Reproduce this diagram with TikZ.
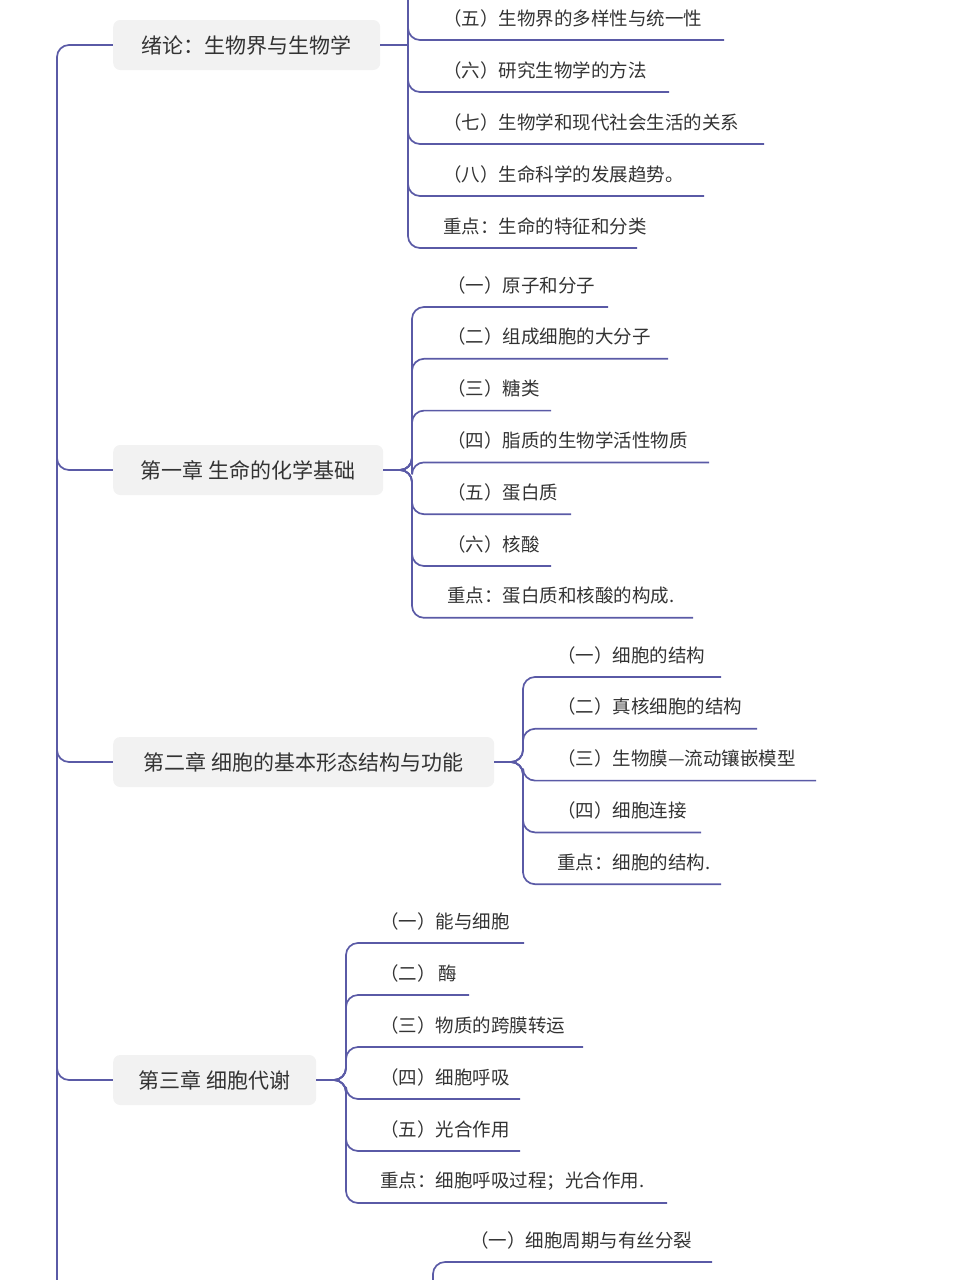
\documentclass[tikz,border=0pt]{standalone}
\usepackage{fontspec}
\setmainfont{Noto Sans CJK SC}
\usetikzlibrary{positioning,calc}
\definecolor{branch}{HTML}{5A5AA6}
\definecolor{txt}{HTML}{333333}
\definecolor{boxgray}{HTML}{F2F2F2}
\tikzset{
  chap/.style={fill=boxgray,rounded corners=7pt,text=txt,
    font=\fontsize{21}{25}\selectfont,inner sep=0pt,
    minimum height=50pt,anchor=west},
  item/.style={text=txt,font=\fontsize{18.5}{22}\selectfont,
    inner sep=0pt,anchor=west},
  link/.style={draw=branch,line width=1.7pt,rounded corners=12pt}
}
\begin{document}
\begin{tikzpicture}[x=1pt,y=-1pt]
\useasboundingbox (0,0) rectangle (961,1280);
% spine
\draw[link] (113,45) -- (57,45) -- (57,1300);
\foreach \cy in {470,762,1080}
  \draw[link] (57,\cy-40) -- (57,\cy) -- (113,\cy);
% chapter boxes
\node[chap,minimum width=267pt] (c0) at (113,45) {绪论：生物界与生物学};
\node[chap,minimum width=270pt] (c1) at (113,470) {第一章 生命的化学基础};
\node[chap,minimum width=381pt] (c2) at (113,762) {第二章 细胞的基本形态结构与功能};
\node[chap,minimum width=203pt] (c3) at (113,1080) {第三章 细胞代谢};
% introduction
\draw[link] (c0.east) -- (408,45);
\foreach \t/\e [count=\i from 0] in {（五）生物界的多样性与统一性/724,
    （六）研究生物学的方法/669,（七）生物学和现代社会生活的关系/764,
    （八）生命科学的发展趋势。/704,重点：生命的特征和分类/637}{
  \node[item] (a\i) at (443,18+52*\i) {\t};
  \draw[link] (408,-20) -- (408,40+52*\i) -- (\e,40+52*\i);
}
% chapter one
\foreach \t/\e [count=\i from 0] in {（一）原子和分子/608,
    （二）组成细胞的大分子/668,（三）糖类/551,
    （四）脂质的生物学活性物质/709,（五）蛋白质/571,
    （六）核酸/551,重点：蛋白质和核酸的构成./693}{
  \node[item] (b\i) at (447,285+51.8*\i) {\t};
  \draw[link] (c1.east) -- (412,470) -- (412,307+51.8*\i) -- (\e,307+51.8*\i);
}
% chapter two
\foreach \t/\e [count=\i from 0] in {（一）细胞的结构/721,
    （二）真核细胞的结构/757,（三）生物膜—流动镶嵌模型/816,
    （四）细胞连接/701,重点：细胞的结构./721}{
  \node[item] (d\i) at (557,655+51.8*\i) {\t};
  \draw[link] (c2.east) -- (523,762) -- (523,677+51.8*\i) -- (\e,677+51.8*\i);
}
% chapter three
\foreach \t/\e [count=\i from 0] in {（一）能与细胞/524,（二）\,酶/469,
    （三）物质的跨膜转运/583,（四）细胞呼吸/520,
    （五）光合作用/520,重点：细胞呼吸过程；光合作用./667}{
  \node[item] (e\i) at (380,921+52*\i) {\t};
  \draw[link] (c3.east) -- (346,1080) -- (346,943+52*\i) -- (\e,943+52*\i);
}
% chapter four (cut off)
\node[item] (f0) at (470,1240) {（一）细胞周期与有丝分裂};
\draw[link] (433,1300) -- (433,1262) -- (712,1262);
\end{tikzpicture}
\end{document}
